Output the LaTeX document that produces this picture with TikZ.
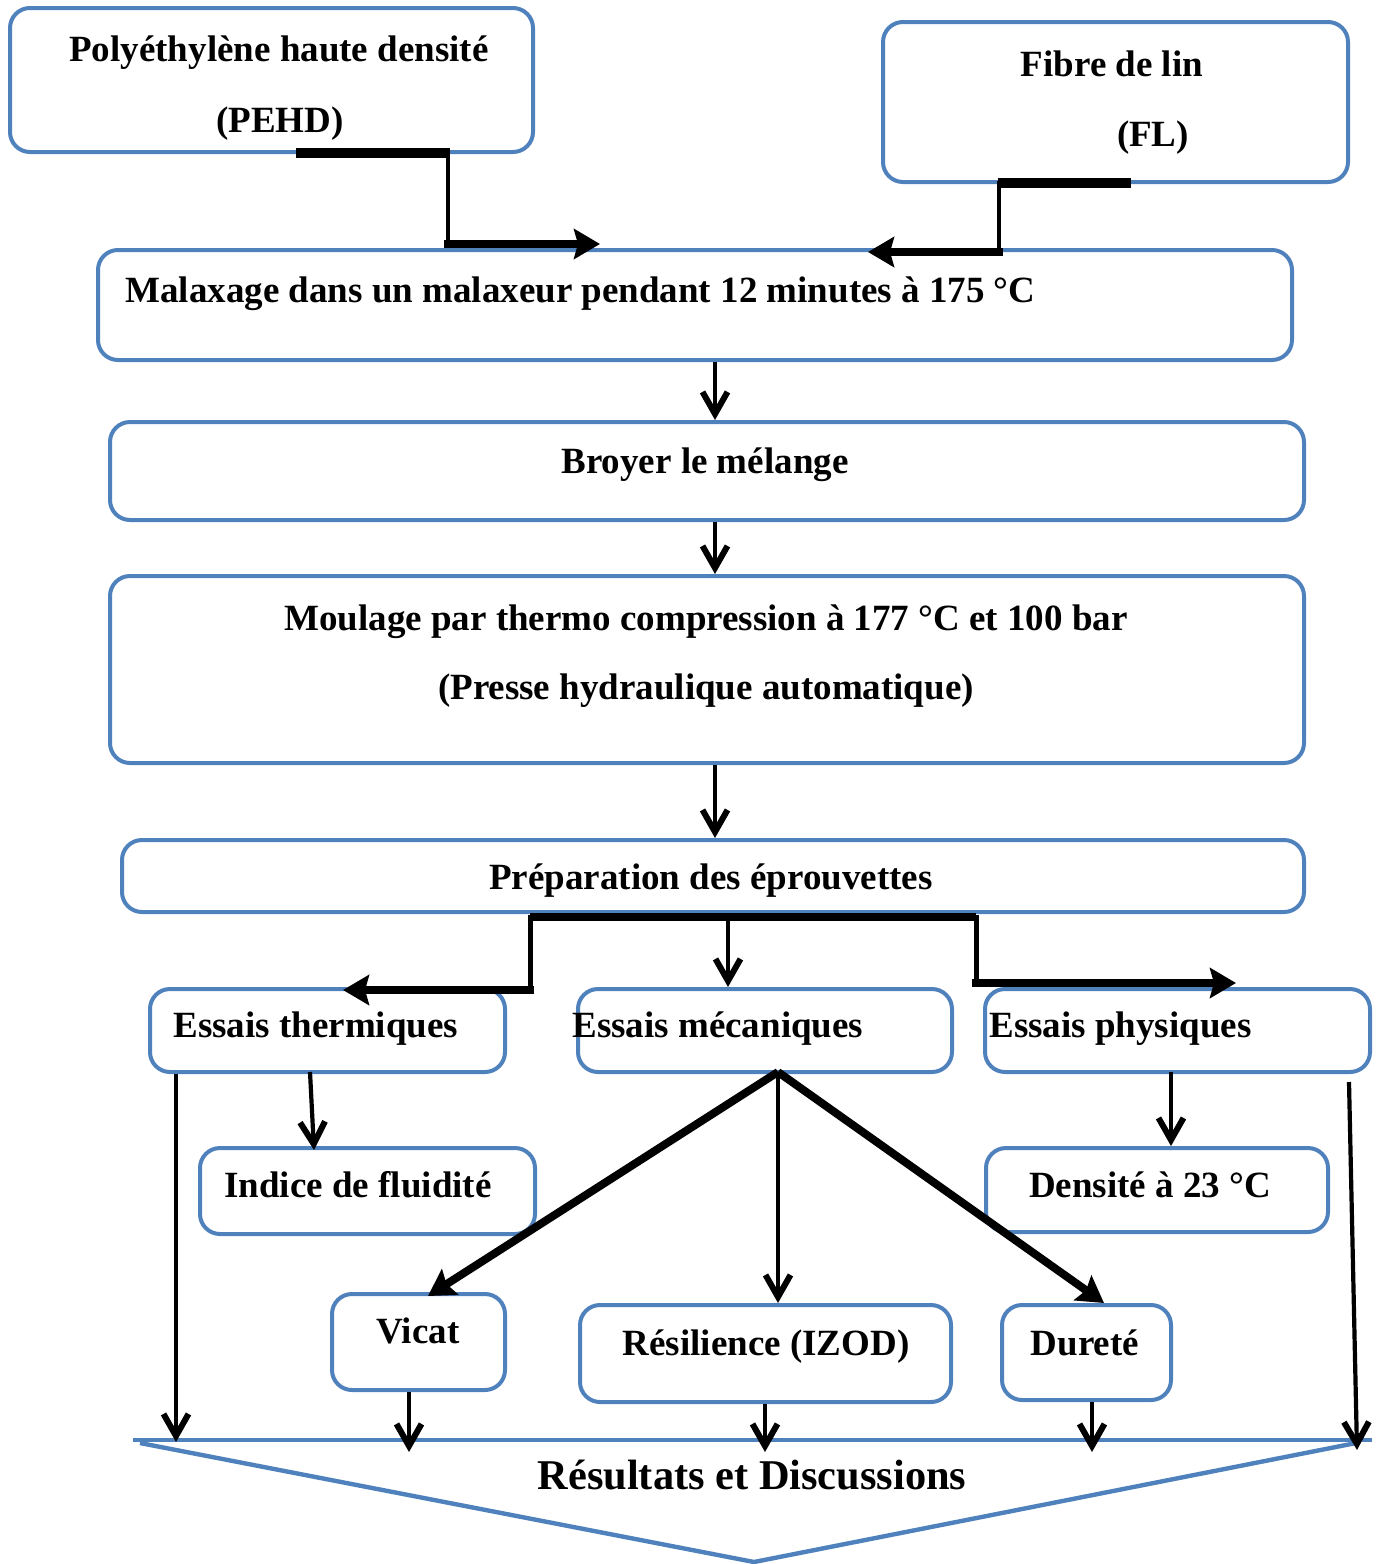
\documentclass[tikz,border=0pt]{standalone}
\usepackage{fontspec}
\setmainfont{Liberation Serif}
\usetikzlibrary{arrows.meta, fit, calc}

\definecolor{boxblue}{RGB}{79,129,189}

\tikzset{
  box/.style={draw=boxblue, line width=2pt, rounded corners=10pt, inner sep=0pt},
  txt/.style={font=\bfseries\fontsize{18.5pt}{22pt}\selectfont, inner sep=0pt, anchor=base},
  tarrow/.style={line width=2.1pt, -{Straight Barb[length=11pt, width=12.5pt, line width=3pt]}},
  bigarrow/.style={line width=4pt, line cap=rect, -{Stealth[length=13pt, width=15pt, inset=2pt]}},
  bar/.style={line width=5pt},
  link/.style={line width=2.25pt, line cap=rect},
  resline/.style={draw=boxblue, line width=2.2pt},
}

\begin{document}
\begin{tikzpicture}[x=0.5pt, y=-0.5pt]
\useasboundingbox (0,0) rectangle (1383,1564);

% boxes
\node[box, fit={(10,8) (533,152)}] (pehd) {};
\node[box, fit={(883,22) (1348,182)}] (fl) {};
\node[box, fit={(98,250) (1292,360)}] (malax) {};
\node[box, fit={(110,422) (1304,520)}] (broyer) {};
\node[box, fit={(110,576) (1304,763)}] (moulage) {};
\node[box, fit={(122,840) (1304,912)}] (prep) {};
\node[box, fit={(150,989) (505,1072)}] (therm) {};
\node[box, fit={(578,989) (952,1072)}] (meca) {};
\node[box, fit={(985,989) (1370,1072)}] (phys) {};
\node[box, fit={(200,1148) (535,1234)}] (indice) {};
\node[box, fit={(986,1148) (1328,1232)}] (densite) {};
\node[box, fit={(332,1294) (505,1390)}] (vicat) {};
\node[box, fit={(580,1305) (951,1402)}] (resil) {};
\node[box, fit={(1002,1305) (1171,1400)}] (durete) {};

% texts
\node[txt] (pehdA) at (279,61) {Polyéthylène haute densité};
\node[txt] (pehdB) at (280,132) {(PEHD)};
\node[txt] (flA) at (1112,76) {Fibre de lin};
\node[txt] (flB) at (1153,146) {(FL)};
\node[txt, anchor=base west] (malaxT) at (125,302) {Malaxage dans un malaxeur pendant 12 minutes à 175 °C};
\node[txt] (broyerT) at (705,473) {Broyer le mélange};
\node[txt] (moulA) at (706,630) {Moulage par thermo compression à 177 °C et 100 bar};
\node[txt] (moulB) at (706,699) {(Presse hydraulique automatique)};
\node[txt] (prepT) at (711,889) {Préparation des éprouvettes};
\node[txt, anchor=base west] (thermT) at (173,1037) {Essais thermiques};
\node[txt, anchor=base west] (mecaT) at (572,1037) {Essais mécaniques};
\node[txt, anchor=base west] (physT) at (989,1037) {Essais physiques};
\node[txt, anchor=base west] (indiceT) at (224,1197) {Indice de fluidité};
\node[txt] (densiteT) at (1150,1197) {Densité à 23 °C};
\node[txt] (vicatT) at (418,1343) {Vicat};
\node[txt] (resilT) at (766,1355) {Résilience (IZOD)};
\node[txt] (dureteT) at (1085,1355) {Dureté};

% results
\draw[resline] (133,1440) -- (1372,1440);
\draw[resline] (140,1443) -- (754,1562) -- (1356,1443);
\node[txt, font=\bfseries\fontsize{21.2pt}{25pt}\selectfont] (resT) at (752,1489) {Résultats et Discussions};

\path
(296,153) coordinate (pehdbarL)
(450,153) coordinate (pehdbarR)
(448,244) coordinate (pehdbend)
(600,244) coordinate (pehdtip)
(998,183) coordinate (flbarL)
(1131,183) coordinate (flbarR)
(999,252) coordinate (flbend)
(868,252) coordinate (fltip)
(715,0) coordinate (axis)
(530,917) coordinate (prepbarL)
(976,917) coordinate (prepbarR)
(728,917) coordinate (prepmid)
(530,990) coordinate (thermbend)
(343,990) coordinate (thermtip)
(976,983) coordinate (physbend)
(1236,983) coordinate (phystip)
(176,1442) coordinate (thermdown)
(310,1072) coordinate (thermout)
(314,1150) coordinate (indicetop)
(778,1072) coordinate (mecaout)
(428,1296) coordinate (vicattip)
(1104,1303) coordinate (duretetip)
(1171,1072) coordinate (physout)
(1349,1082) coordinate (physright)
(1357,1450) coordinate (physrighttip)
(409,1452) coordinate (vicatdown)
(765,1452) coordinate (resildown)
(1092,1452) coordinate (duretedown)
;

% inputs
\draw[bar] (pehdbarL) -- (pehdbarR);
\draw[link] (pehdbend |- pehdbarR) -- (pehdbend);
\draw[bigarrow] (pehdbend) -- (pehdtip);
\draw[bar] (flbarL) -- (flbarR);
\draw[link] (flbend |- flbarL) -- (flbend);
\draw[bigarrow] (flbend) -- (fltip);

% main line
\draw[tarrow] (malax.south -| axis) -- (broyer.north -| axis);
\draw[tarrow] (broyer.south -| axis) -- (moulage.north -| axis);
\draw[tarrow] (moulage.south -| axis) -- (prep.north -| axis);

% branches
\draw[line width=4pt] (prepbarL) -- (prepbarR);
\draw[link, line width=2.5pt] (prepbarL) -- (thermbend);
\draw[bigarrow] (thermbend) -- (thermtip);
\draw[tarrow] (prepmid) -- (prepmid |- meca.north);
\draw[link, line width=2.5pt] (prepbarR) -- (physbend);
\draw[bigarrow] (physbend) -- (phystip);

% tests
\draw[tarrow] (thermdown |- therm.south) -- (thermdown);
\draw[tarrow] (thermout) -- (indicetop);
\draw[bigarrow, line cap=butt] (mecaout) -- (vicattip);
\draw[tarrow] (mecaout) -- (mecaout |- resil.north);
\draw[bigarrow, line cap=butt] (mecaout) -- (duretetip);
\draw[tarrow] (physout) -- (physout |- densite.north);
\draw[tarrow] (physright) -- (physrighttip);

% to results
\draw[tarrow] (vicatdown |- vicat.south) -- (vicatdown);
\draw[tarrow] (resildown |- resil.south) -- (resildown);
\draw[tarrow] (duretedown |- durete.south) -- (duretedown);

\end{tikzpicture}
\end{document}
